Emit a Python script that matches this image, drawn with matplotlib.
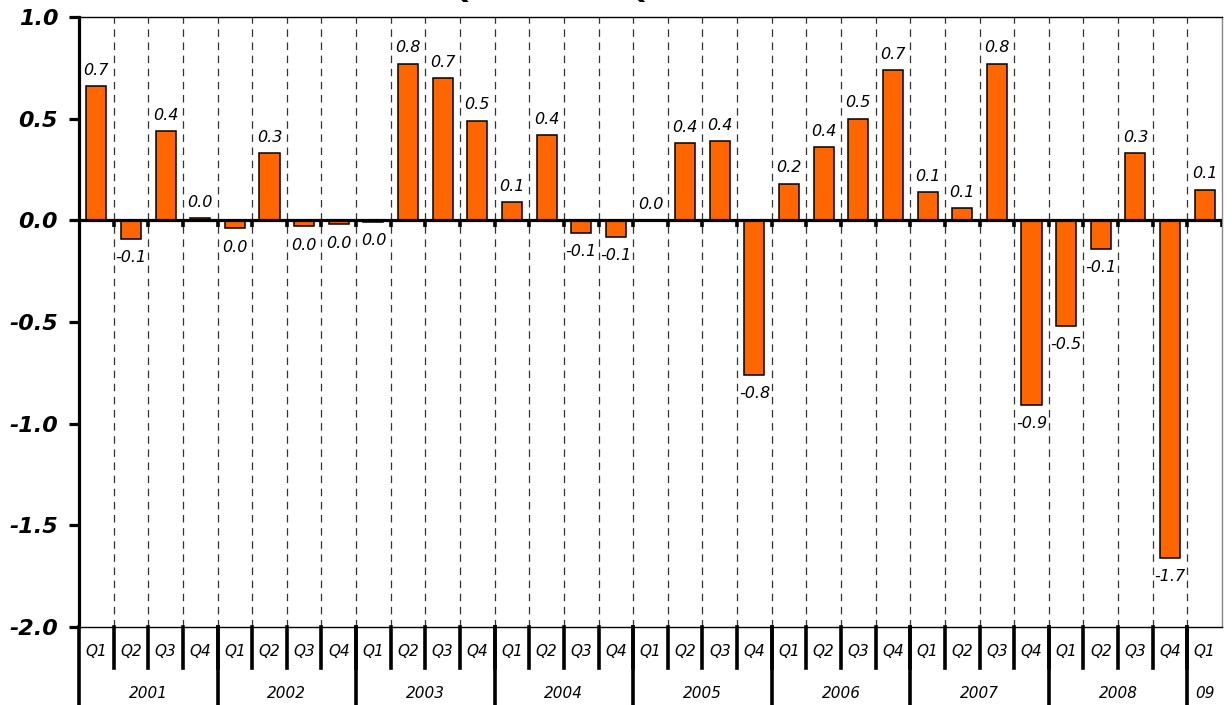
import matplotlib

matplotlib.use("Agg")
import matplotlib.pyplot as plt
import numpy as np

# quarterly values, 2001 Q1 .. 2009 Q1
quarters = ["Q1", "Q2", "Q3", "Q4"] * 8 + ["Q1"]
years = ["2001", "2002", "2003", "2004", "2005", "2006", "2007", "2008", "09"]
year_lengths = [4, 4, 4, 4, 4, 4, 4, 4, 1]
values = [0.66, -0.09, 0.44, 0.01,
          -0.04, 0.33, -0.03, -0.02,
          -0.01, 0.77, 0.70, 0.49,
          0.09, 0.42, -0.06, -0.08,
          0.00, 0.38, 0.39, -0.76,
          0.18, 0.36, 0.50, 0.74,
          0.14, 0.06, 0.77, -0.91,
          -0.52, -0.14, 0.33, -1.66,
          0.15]
yticks = [-2.0, -1.5, -1.0, -0.5, 0.0, 0.5, 1.0]

W, H = 1232, 705
fig = plt.figure(figsize=(W / 100, H / 100), dpi=100)
ax = fig.add_axes([79 / W, 1 - 627 / H, (1222 - 79) / W, 610 / H])

n = len(values)
x = np.arange(n) + 0.5
bounds = np.arange(1, n)

# dashed separators between quarters
ax.vlines(bounds, -2, 1, colors="#333333", lw=0.9, linestyles=(0, (6, 4.5)), zorder=1)

ax.bar(x, values, width=0.58, color="#FF6600", edgecolor="black", lw=1.1, zorder=3)

# zero line with tick marks
ax.axhline(0, color="black", lw=2.3, zorder=4)
ax.vlines(np.arange(0, n + 1), -0.035, 0.005, colors="black", lw=2.6, zorder=4)

for xi, v in zip(x, values):
    txt = f"{v:.1f}"
    if txt == "-0.0":
        txt = "0.0"
    if v >= 0:
        ax.annotate(txt, (xi, v), xytext=(0, 6), textcoords="offset points",
                    ha="center", va="bottom", fontsize=11.5, style="italic", zorder=5)
    else:
        ax.annotate(txt, (xi, v), xytext=(0, -8), textcoords="offset points",
                    ha="center", va="top", fontsize=11.5, style="italic", zorder=5)

ax.set_xlim(0, n)
ax.set_ylim(-2, 1)
ax.set_xticks([])
ax.set_yticks(yticks)
ax.set_yticklabels([f"{t:.1f}" for t in yticks], fontsize=16,
                   fontweight="bold", style="italic")
ax.tick_params(axis="y", direction="out", length=7, width=2.3, pad=8)

ax.spines["left"].set_linewidth(2.3)
ax.spines["top"].set_linewidth(1.0)
ax.spines["bottom"].set_linewidth(1.0)
ax.spines["right"].set_color("#888888")
ax.spines["right"].set_linewidth(1.0)

# category axis drawn underneath the plot
tr = ax.get_xaxis_transform()
q_sep = -(668 - 627) / 610
y_sep = -(705 - 627) / 610
for xi, q in zip(x, quarters):
    ax.text(xi, -(651 - 627) / 610, q, transform=tr, ha="center", va="center",
            fontsize=11, style="italic")
for b in bounds:
    ax.plot([b, b], [0, q_sep], transform=tr, color="black", lw=2.6, clip_on=False)
start = 0
for yr, ln in zip(years, year_lengths):
    ax.plot([start, start], [0, y_sep], transform=tr, color="black", lw=2.6,
            clip_on=False)
    ax.text(start + ln / 2, -(693 - 627) / 610, yr, transform=tr, ha="center",
            va="center", fontsize=11, style="italic")
    start += ln

# title, cropped at the top edge of the picture
fig.text(606 / W, 1 + 1.5 / H, "Q1 2001 - Q1 2009", ha="center", va="baseline",
         fontsize=22, fontweight="bold")

fig.savefig("out.png", dpi=100)
